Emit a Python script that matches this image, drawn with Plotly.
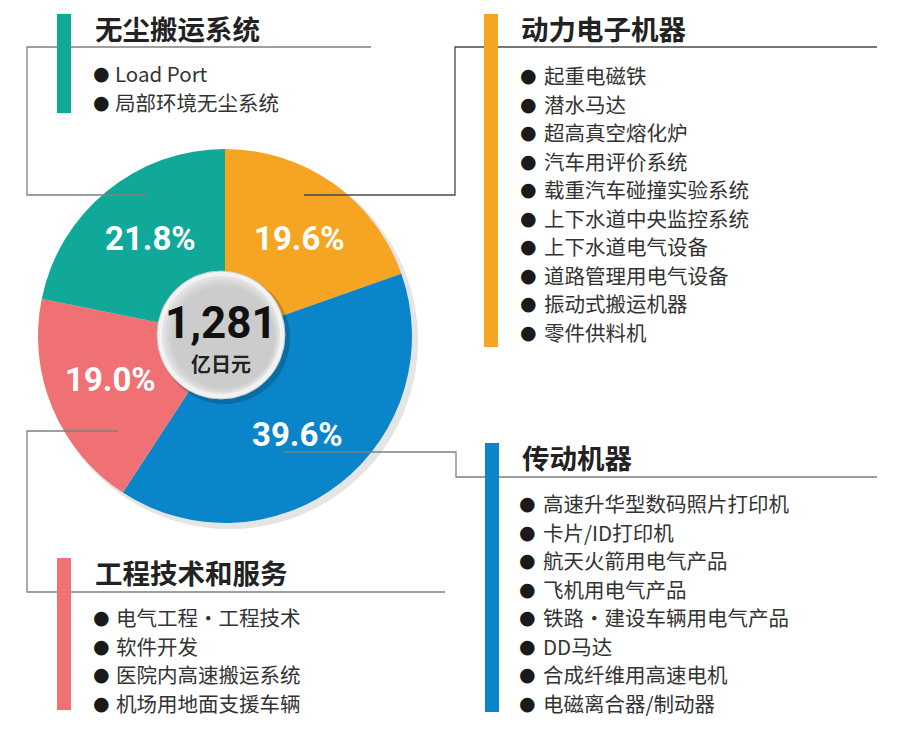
import math
import plotly.graph_objects as go

W, H = 904, 736

# ---------------- data ----------------
segments = ["动力电子机器", "传动机器", "工程技术和服务", "无尘搬运系统"]
shares = [19.6, 39.6, 19.0, 21.8]
colors = ["#f5a522", "#0a85c9", "#ef7173", "#10a898"]
total_value = "1,281"
total_unit = "亿日元"

items_power = ["起重电磁铁", "潜水马达", "超高真空熔化炉", "汽车用评价系统", "载重汽车碰撞实验系统",
               "上下水道中央监控系统", "上下水道电气设备", "道路管理用电气设备", "振动式搬运机器", "零件供料机"]
items_drive = ["高速升华型数码照片打印机", "卡片/ID打印机", "航天火箭用电气产品", "飞机用电气产品",
               "铁路·建设车辆用电气产品", "DD马达", "合成纤维用高速电机", "电磁离合器/制动器"]
items_eng = ["电气工程·工程技术", "软件开发", "医院内高速搬运系统", "机场用地面支援车辆"]
items_dust = ["Load Port", "局部环境无尘系统"]

# ---------------- layout geometry (pixels) ----------------
CX, CY, R = 225, 336, 187
CJK = "Noto Sans CJK SC"
LINE = "#4a4a4a"
LINE2 = "#808080"

fig = go.Figure()

# pie
fig.add_trace(go.Pie(
    labels=segments, values=shares, sort=False, direction="clockwise", rotation=0,
    marker=dict(colors=colors, line=dict(width=0)),
    textinfo="none", hoverinfo="label+percent", showlegend=False,
    domain=dict(x=[(CX - R) / W, (CX + R) / W], y=[1 - (CY + R) / H, 1 - (CY - R) / H]),
))

shapes = []
annotations = []

# soft shadow behind pie
shapes.append(dict(type="circle", xref="x", yref="y", layer="below",
                   x0=CX - R + 3, x1=CX + R + 6, y0=CY - R + 3, y1=CY + R + 6,
                   fillcolor="rgba(0,0,0,0.10)", line=dict(width=0)))

# percent labels, placed along each slice's mid angle
cum = 0.0
tot = sum(shares)
for s in shares:
    mid = (cum + s / 2) / tot * 360 + 2
    cum += s
    a = math.radians(mid)
    x = CX + 0.655 * R * math.sin(a)
    y = CY - 0.655 * R * math.cos(a)
    annotations.append(dict(x=x, y=y, xref="x", yref="y", showarrow=False,
                            text=f"{s:.1f}%", font=dict(family="Roboto", size=33, color="white", weight="bold"),
                            xanchor="center", yanchor="middle"))

# center medallion
MX, MY, MR = 221, 335, 64
shapes.append(dict(type="circle", xref="x", yref="y", layer="above",
                   x0=MX - MR + 2, x1=MX + MR + 5, y0=MY - MR + 2, y1=MY + MR + 5,
                   fillcolor="rgba(0,0,0,0.18)", line=dict(width=0)))
shapes.append(dict(type="circle", xref="x", yref="y", layer="above",
                   x0=MX - MR, x1=MX + MR, y0=MY - MR, y1=MY + MR,
                   fillcolor="#f2f2f2", line=dict(width=1, color="#c8c8c8")))
for i, c in enumerate(["#e2e2e2", "#d9d9d9", "#d2d2d2", "#cccccc"]):
    rr = MR - 5 - i * 2
    off = i * 1.2
    shapes.append(dict(type="circle", xref="x", yref="y", layer="above",
                       x0=MX - rr + off, x1=MX + rr + off * 0.2, y0=MY - rr + off, y1=MY + rr + off * 0.2,
                       fillcolor=c, line=dict(width=0)))
annotations.append(dict(x=MX, y=MY - 12, xref="x", yref="y", showarrow=False, text=total_value,
                        font=dict(family="Roboto", size=44, color="#111", weight="bold"),
                        xanchor="center", yanchor="middle"))
annotations.append(dict(x=MX, y=MY + 28, xref="x", yref="y", showarrow=False, text=total_unit,
                        font=dict(family=CJK, size=20, color="#222", weight="bold"),
                        xanchor="center", yanchor="middle"))

# leader lines (dot -> elbow -> header rule)
leaders = [
    ((304, 195), [(304, 195), (455, 195), (455, 47), (877, 47)], LINE),
    ((284, 452), [(284, 452), (456, 452), (456, 477), (877, 477)], LINE2),
    ((118, 431), [(118, 431), (27, 431), (27, 592), (445, 592)], LINE2),
    ((148, 195), [(148, 195), (27, 195), (27, 47), (371, 47)], LINE2),
]
for (dx, dy), pts, col in leaders:
    path = "M " + " L ".join(f"{px},{py}" for px, py in pts)
    shapes.append(dict(type="path", xref="x", yref="y", path=path, layer="above",
                       line=dict(color=col, width=1.3)))
fig.add_trace(go.Scatter(x=[d[0][0] for d in leaders], y=[d[0][1] for d in leaders], mode="markers",
                         marker=dict(color="#111", size=8), hoverinfo="skip", showlegend=False))

# colored bars + titles + bullet lists
groups = [
    # bar x0, bar y0, bar y1, title x, title y, bullet x, text x, list y0, items, color, title
    (484, 14, 347, 519, 28, 528, 542, 75, items_power, colors[0], segments[0]),
    (485, 443, 712, 520, 457, 527, 541, 503, items_drive, colors[1], segments[1]),
    (57, 558, 710, 93, 572, 101, 114, 617, items_eng, colors[2], segments[2]),
    (57, 14, 113, 93, 28, 101, 113, 73, items_dust, colors[3], segments[3]),
]
for bx, by0, by1, tx, ty, bux, lx, ly0, items, col, title in groups:
    shapes.append(dict(type="rect", xref="x", yref="y", layer="above",
                       x0=bx, x1=bx + 14, y0=by0, y1=by1, fillcolor=col, line=dict(width=0)))
    annotations.append(dict(x=tx, y=ty, xref="x", yref="y", showarrow=False, text=title,
                            font=dict(family=CJK, size=27.5, color="#222", weight="bold"),
                            xanchor="left", yanchor="middle"))
    for k, it in enumerate(items):
        yy = ly0 + k * 28.5
        annotations.append(dict(x=bux, y=yy, xref="x", yref="y", showarrow=False, text="●",
                                font=dict(family="DejaVu Sans", size=19, color="#1a1a1a"),
                                xanchor="center", yanchor="middle"))
        annotations.append(dict(x=lx, y=yy, xref="x", yref="y", showarrow=False,
                                text=it,
                                font=dict(family=CJK, size=20.5, color="#333"),
                                xanchor="left", yanchor="middle"))

fig.update_layout(
    width=W, height=H, autosize=False,
    margin=dict(l=0, r=0, t=0, b=0, pad=0),
    paper_bgcolor="white", plot_bgcolor="rgba(0,0,0,0)",
    xaxis=dict(range=[0, W], visible=False, fixedrange=True, domain=[0, 1]),
    yaxis=dict(range=[H, 0], visible=False, fixedrange=True, domain=[0, 1]),
    shapes=shapes, annotations=annotations, showlegend=False,
)

fig.write_html("out.html")
